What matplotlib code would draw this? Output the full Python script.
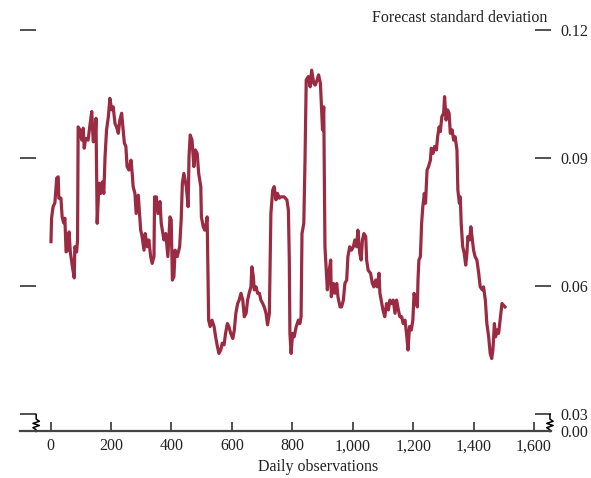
import matplotlib
matplotlib.use("Agg")
import matplotlib.pyplot as plt
import matplotlib.transforms as mtransforms
from matplotlib.ticker import FuncFormatter

plt.rcParams['font.family'] = ['Liberation Serif', 'DejaVu Serif']

# day index and forecast standard deviation
days = [1, 3, 8, 14, 20, 25, 27, 34, 38, 43, 47, 51, 56, 61, 65, 72, 78, 80, 86, 89,
        91, 97, 103, 108, 111, 116, 124, 130, 136, 141, 147, 150, 154, 160, 166, 171, 176, 180, 185, 191,
        196, 202, 207, 213, 218, 224, 229, 235, 240, 244, 249, 253, 259, 266, 270, 273, 279, 283, 290, 298,
        302, 309, 313, 320, 325, 331, 336, 342, 344, 350, 355, 362, 366, 375, 381, 388, 395, 399, 403, 408,
        412, 419, 427, 432, 436, 441, 449, 455, 458, 462, 468, 474, 479, 485, 490, 497, 499, 505, 510, 515,
        518, 523, 528, 534, 541, 546, 552, 557, 563, 568, 574, 579, 585, 590, 596, 603, 608, 613, 619, 624,
        630, 636, 641, 647, 652, 657, 663, 666, 671, 674, 680, 685, 691, 696, 702, 707, 713, 718, 724, 729,
        735, 740, 746, 751, 757, 762, 773, 782, 787, 790, 792, 796, 801, 806, 813, 820, 825, 829, 832, 838,
        842, 846, 853, 859, 864, 871, 876, 882, 887, 893, 897, 900, 904, 908, 911, 916, 921, 927, 929, 936,
        941, 947, 951, 958, 963, 969, 974, 980, 984, 990, 996, 1002, 1007, 1013, 1017, 1023, 1028, 1032, 1037, 1043,
        1046, 1051, 1059, 1065, 1070, 1076, 1081, 1087, 1090, 1094, 1100, 1106, 1112, 1118, 1123, 1129, 1134, 1140, 1145, 1151,
        1156, 1162, 1167, 1173, 1178, 1183, 1188, 1194, 1199, 1203, 1208, 1214, 1216, 1219, 1224, 1228, 1232, 1237, 1241, 1246,
        1251, 1257, 1260, 1266, 1271, 1277, 1281, 1286, 1290, 1295, 1301, 1304, 1309, 1314, 1319, 1323, 1329, 1334, 1339, 1345,
        1348, 1353, 1356, 1359, 1364, 1369, 1374, 1378, 1381, 1387, 1391, 1396, 1400, 1405, 1411, 1417, 1422, 1429, 1433, 1439,
        1444, 1450, 1455, 1460, 1464, 1469, 1473, 1478, 1483, 1488, 1494, 1499, 1504]
sd = [0.0705, 0.0760, 0.0787, 0.0796, 0.0854, 0.0857, 0.0807, 0.0807, 0.0763, 0.0749, 0.0760, 0.0681, 0.0685, 0.0728, 0.0681, 0.0646, 0.0620, 0.0693, 0.0681, 0.0709,
      0.0974, 0.0967, 0.0943, 0.0971, 0.0924, 0.0947, 0.0943, 0.0978, 0.1010, 0.0939, 0.0943, 0.0994, 0.0748, 0.0842, 0.0818, 0.0845, 0.0818, 0.0904, 0.0967, 0.0998,
      0.1041, 0.1014, 0.1021, 0.0982, 0.0974, 0.0959, 0.0990, 0.1006, 0.0967, 0.0936, 0.0928, 0.0881, 0.0873, 0.0896, 0.0865, 0.0834, 0.0818, 0.0771, 0.0814, 0.0732,
      0.0720, 0.0685, 0.0724, 0.0693, 0.0709, 0.0670, 0.0654, 0.0670, 0.0810, 0.0810, 0.0771, 0.0799, 0.0748, 0.0709, 0.0724, 0.0670, 0.0763, 0.0756, 0.0615, 0.0623,
      0.0685, 0.0670, 0.0693, 0.0756, 0.0842, 0.0865, 0.0834, 0.0787, 0.0904, 0.0955, 0.0943, 0.0881, 0.0920, 0.0912, 0.0865, 0.0834, 0.0763, 0.0740, 0.0732, 0.0748,
      0.0763, 0.0521, 0.0506, 0.0521, 0.0506, 0.0482, 0.0459, 0.0443, 0.0451, 0.0467, 0.0463, 0.0490, 0.0513, 0.0506, 0.0490, 0.0478, 0.0498, 0.0537, 0.0560, 0.0568,
      0.0584, 0.0568, 0.0529, 0.0537, 0.0568, 0.0584, 0.0599, 0.0646, 0.0623, 0.0592, 0.0599, 0.0584, 0.0584, 0.0568, 0.0560, 0.0552, 0.0537, 0.0510, 0.0537, 0.0771,
      0.0826, 0.0834, 0.0803, 0.0818, 0.0807, 0.0810, 0.0810, 0.0803, 0.0779, 0.0662, 0.0490, 0.0443, 0.0490, 0.0482, 0.0506, 0.0521, 0.0513, 0.0529, 0.0724, 0.0748,
      0.0896, 0.1084, 0.1092, 0.1068, 0.1107, 0.1076, 0.1072, 0.1084, 0.1096, 0.1076, 0.1014, 0.0967, 0.1021, 0.0693, 0.0654, 0.0592, 0.0631, 0.0662, 0.0576, 0.0607,
      0.0584, 0.0607, 0.0576, 0.0552, 0.0552, 0.0568, 0.0607, 0.0615, 0.0670, 0.0693, 0.0685, 0.0693, 0.0709, 0.0693, 0.0732, 0.0678, 0.0662, 0.0709, 0.0724, 0.0717,
      0.0662, 0.0638, 0.0631, 0.0607, 0.0599, 0.0615, 0.0599, 0.0631, 0.0584, 0.0568, 0.0545, 0.0529, 0.0560, 0.0545, 0.0568, 0.0560, 0.0568, 0.0537, 0.0568, 0.0545,
      0.0529, 0.0529, 0.0513, 0.0521, 0.0490, 0.0451, 0.0506, 0.0498, 0.0521, 0.0584, 0.0568, 0.0552, 0.0615, 0.0662, 0.0670, 0.0748, 0.0787, 0.0818, 0.0795, 0.0873,
      0.0881, 0.0896, 0.0924, 0.0912, 0.0928, 0.0920, 0.0951, 0.0974, 0.0963, 0.0998, 0.1006, 0.1045, 0.0990, 0.1014, 0.1006, 0.0959, 0.0967, 0.0943, 0.0951, 0.0920,
      0.0826, 0.0795, 0.0810, 0.0748, 0.0693, 0.0678, 0.0650, 0.0678, 0.0717, 0.0709, 0.0740, 0.0709, 0.0685, 0.0670, 0.0662, 0.0631, 0.0599, 0.0592, 0.0599, 0.0568,
      0.0513, 0.0482, 0.0443, 0.0431, 0.0451, 0.0513, 0.0482, 0.0498, 0.0490, 0.0521, 0.0560, 0.0556, 0.0552]

x_ticks = [0, 200, 400, 600, 800, 1000, 1200, 1400, 1600]
y_ticks = [0.03, 0.06, 0.09, 0.12]
y_labels = ['0.03', '0.06', '0.09', '0.12']
y_floor = 0.026   # where the broken axis puts 0.00

line_color = '#9A2B42'
ink = '#222222'

fig = plt.figure(figsize=(5.91, 4.78), dpi=100)
ax = fig.add_axes([0.0338, 0.0973, 0.8985, 0.8389])

ax.plot(days, sd, color=line_color, lw=2.3, solid_joinstyle='round')

ax.set_xlim(-101.6, 1656.3)
ax.set_ylim(y_floor, 0.12)

for s in ['top', 'left', 'right']:
    ax.spines[s].set_visible(False)
ax.spines['bottom'].set_color('#444444')
ax.spines['bottom'].set_linewidth(1.6)

ax.set_xticks(x_ticks)
ax.xaxis.set_major_formatter(FuncFormatter(lambda v, p: f'{int(v):,}'))
ax.tick_params(axis='x', direction='in', length=6.5, width=1.1, color=ink,
               labelsize=11.5, labelcolor=ink, pad=5)

ax.set_yticks([y_floor] + y_ticks)
ax.set_yticklabels(['0.00'] + y_labels)
ax.tick_params(axis='y', direction='in', length=11.5, width=1.1, color=ink,
               left=True, right=True, labelleft=False, labelright=True,
               labelsize=11.5, labelcolor=ink, pad=6.5)
t0 = ax.yaxis.get_major_ticks()[0]
t0.tick1line.set_visible(False)
t0.tick2line.set_visible(False)

# axis-break zigzags between 0.03 and 0.00
trans = mtransforms.blended_transform_factory(ax.transAxes, ax.transData)
zig_y = [0.03, 0.0289, 0.0284, 0.0279, 0.0274, 0.0269, 0.0264, y_floor]
zig_dx = [0, 0, 0.006, -0.006, 0.006, -0.006, 0, 0]
for x0 in [0.0305, 0.998]:
    ax.plot([x0 + d for d in zig_dx], zig_y, color='black', lw=1.1,
            transform=trans, clip_on=False)

ax.set_xlabel('Daily observations', fontsize=11.5, color=ink)
ax.xaxis.set_label_coords(0.561, -0.068)

fig.text(0.927, 0.955, 'Forecast standard deviation', ha='right', va='baseline',
         fontsize=11.5, color=ink)

fig.savefig('out.png', dpi=100)
